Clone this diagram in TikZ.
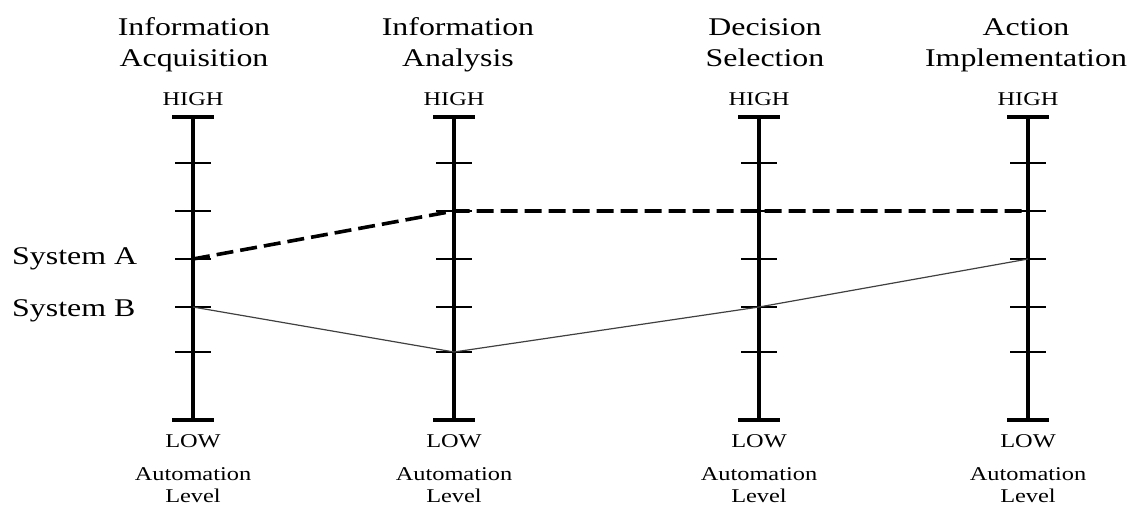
\documentclass[tikz,border=0pt]{standalone}
\usepackage{fontspec}
\setmainfont{Liberation Serif}[FakeStretch=1.25]
\begin{document}
\begin{tikzpicture}[x=1pt,y=-1pt,
  axisline/.style={line width=3.6pt},
  capbar/.style={line width=3.2pt},
  tickbar/.style={line width=2.4pt},
  title/.style={font=\fontsize{25.5}{31}\selectfont, align=center, anchor=base, inner sep=0pt},
  small/.style={font=\fontsize{19.5}{22}\selectfont, align=center, anchor=base, inner sep=0pt},
  syslabel/.style={font=\fontsize{25.5}{31}\selectfont, anchor=base west, inner sep=0pt},
  sysA/.style={line width=3.6pt, dash pattern=on 17pt off 7pt},
  sysB/.style={line width=1.2pt, black!75}]
\useasboundingbox (0,0) rectangle (1140,509);

% four automation-level scales: x positions
\foreach \n/\x in {1/193,2/454,3/759,4/1028}{
  % level coordinates, 0 = LOW ... 6 = HIGH
  \foreach \k/\y in {0/420,1/352,2/307,3/259,4/211,5/163,6/117}{
    \coordinate (s\n-\k) at (\x,\y);
  }
  \draw[axisline] (s\n-0) -- (s\n-6);
  \draw[capbar] ([xshift=-21pt]s\n-6) -- ([xshift=21pt]s\n-6);
  \draw[capbar] ([xshift=-21pt]s\n-0) -- ([xshift=21pt]s\n-0);
  \foreach \k in {1,...,5}{
    \draw[tickbar] ([xshift=-18pt]s\n-\k) -- ([xshift=18pt]s\n-\k);
  }
  \node[small] (high\n) at (\x,105) {HIGH};
  \node[small] (low\n) at (\x,447) {LOW};
  % base anchor sits on the last line
  \node[small] (autolevel\n) at (\x,502) {Automation\\Level};
}

% stage titles (base anchor on the second line)
\node[title] (t1) at (194,66) {Information\\Acquisition};
\node[title] (t2) at (458,66) {Information\\Analysis};
\node[title] (t3) at (765,66) {Decision\\Selection};
\node[title] (t4) at (1026,66) {Action\\Implementation};

% system labels
\node[syslabel] (labA) at (12,264) {System A};
\node[syslabel] (labB) at (12,316) {System B};

% system profiles
\draw[sysB] (s1-2) -- (s2-1) -- (s3-2) -- (s4-3);
\draw[sysA] (s1-3) -- (s2-4) -- (s3-4) -- (s4-4);
\end{tikzpicture}
\end{document}
